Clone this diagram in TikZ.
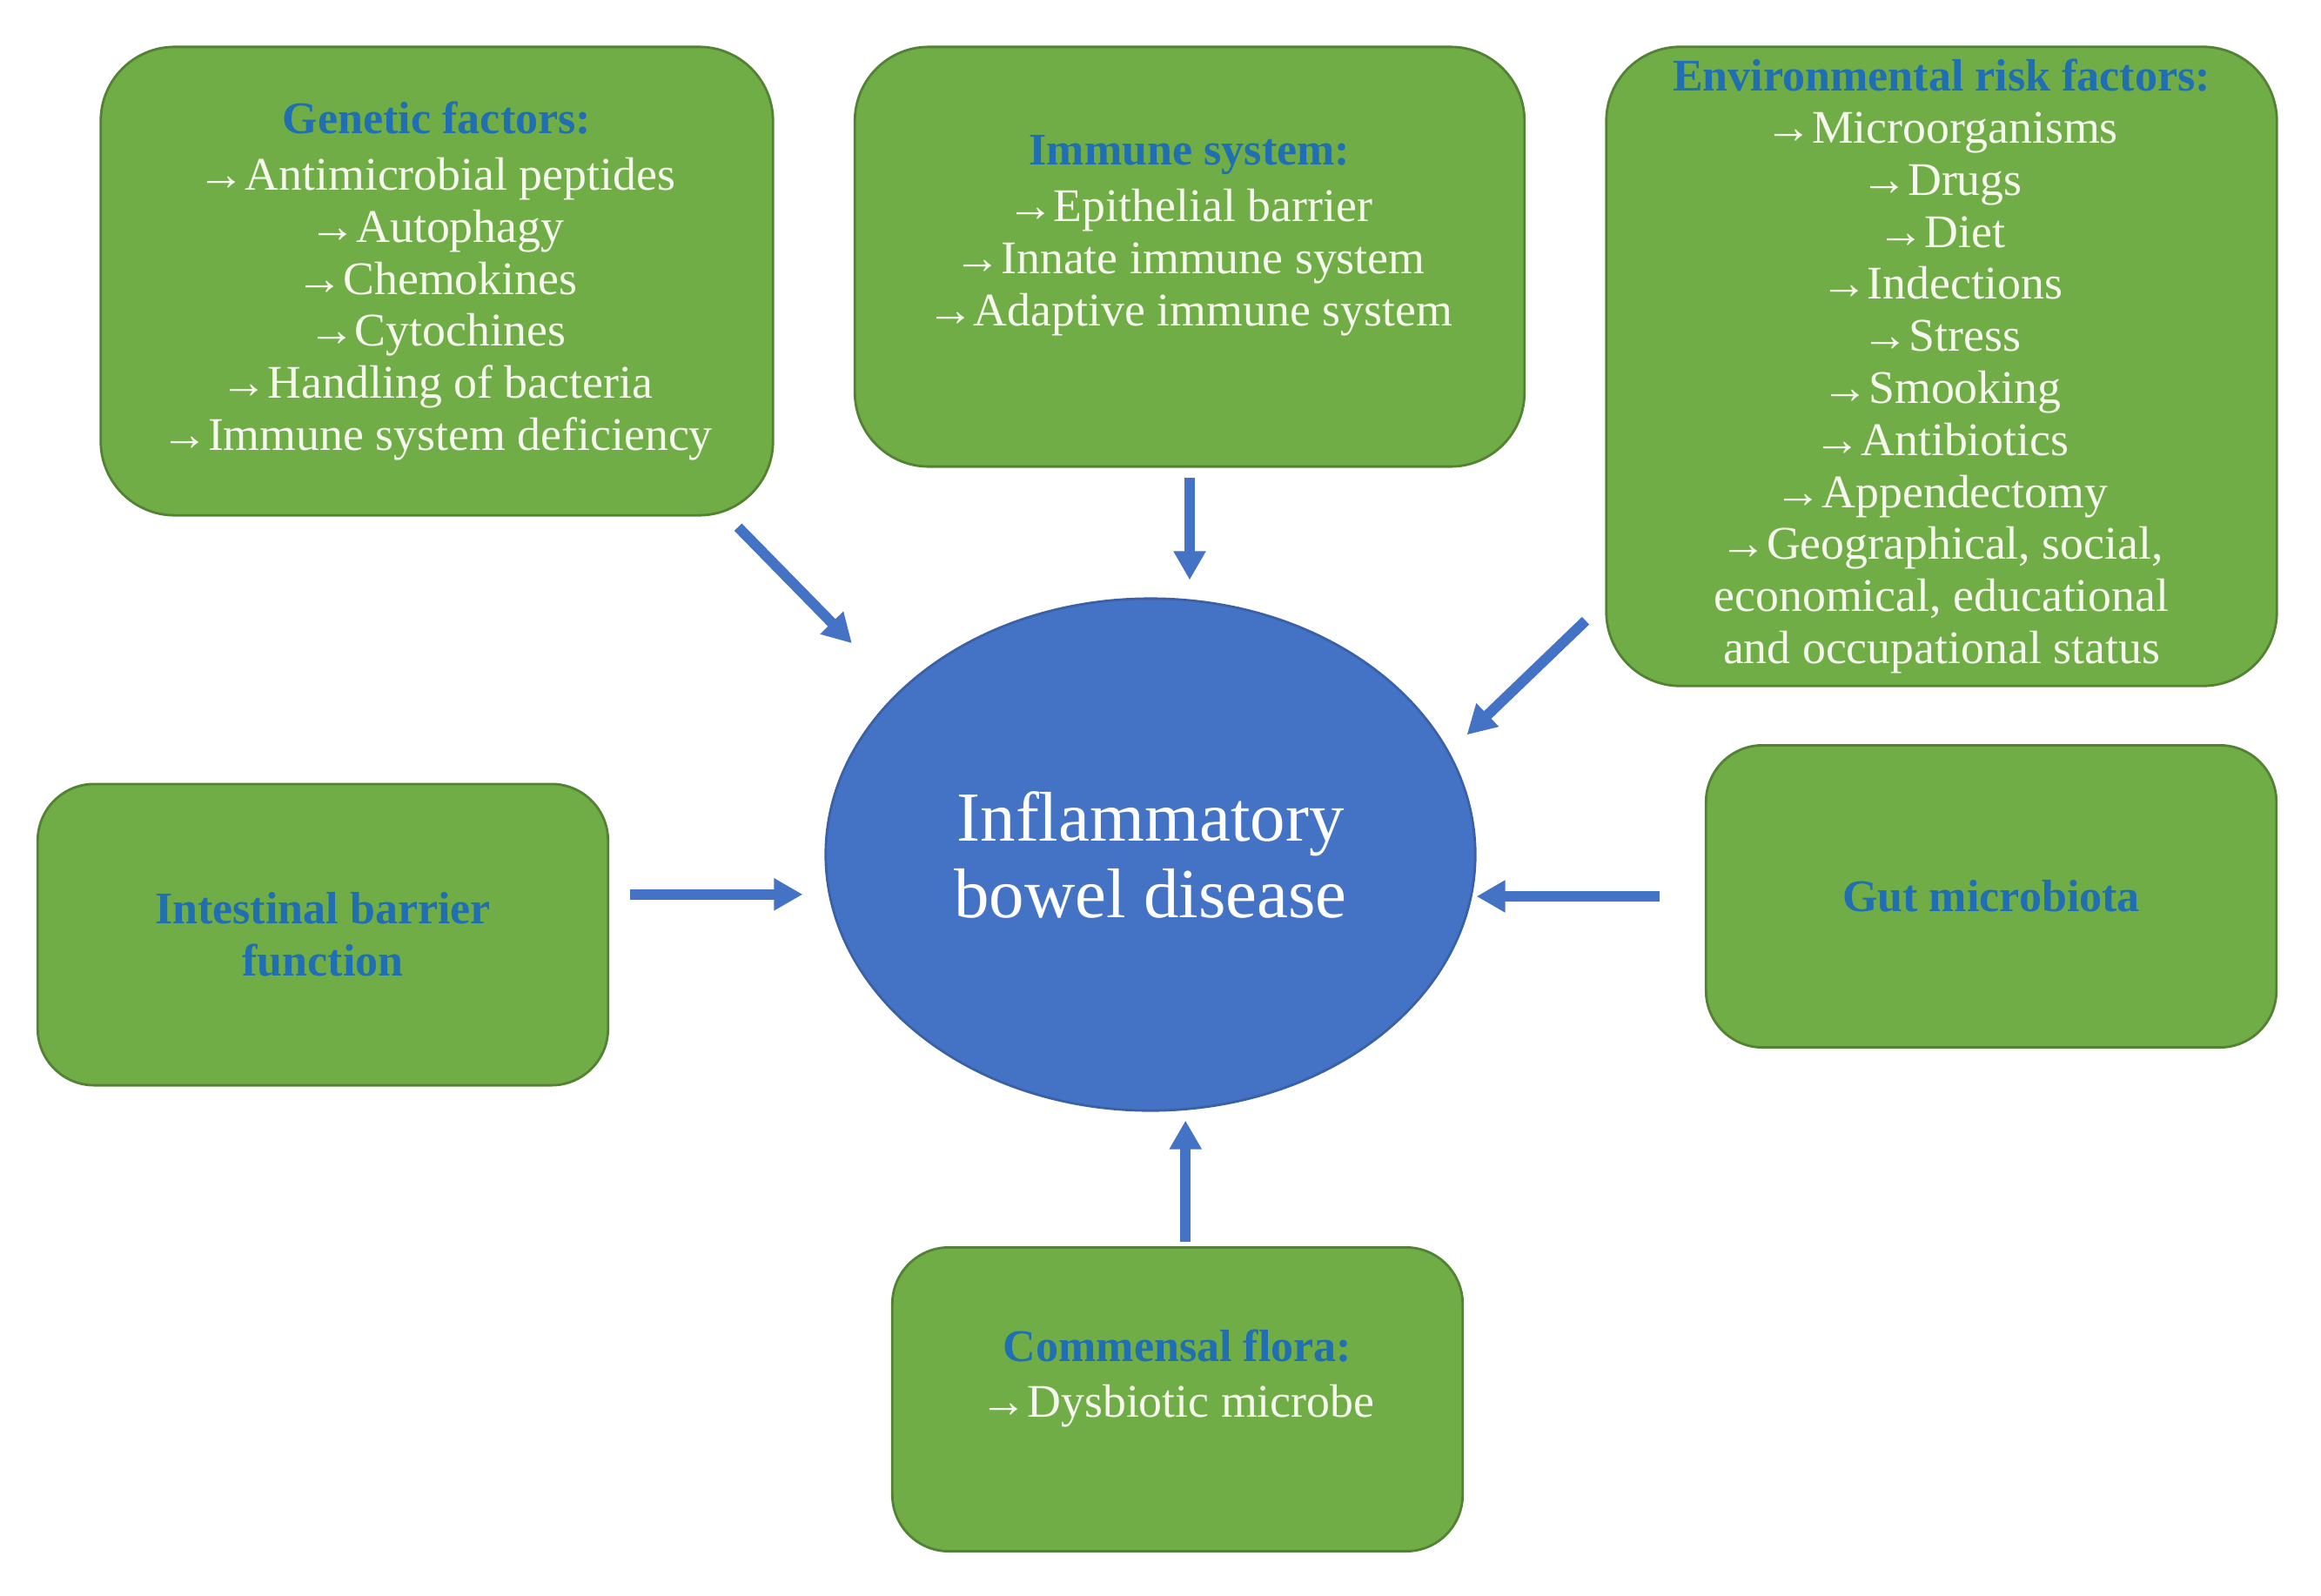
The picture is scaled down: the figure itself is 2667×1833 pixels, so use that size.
\documentclass[tikz,border=0pt]{standalone}
\usepackage{fontspec}
\setmainfont{Liberation Serif}
\usetikzlibrary{shapes.geometric, arrows.meta}
\usepackage{xcolor}

\definecolor{boxgreen}{HTML}{70AD47}
\definecolor{boxedge}{HTML}{548235}
\definecolor{ibdblue}{HTML}{4472C4}
\definecolor{headblue}{HTML}{1F6FB2}
\definecolor{itemwhite}{HTML}{F6F8EE}

\newcommand{\hd}[1]{{\fontsize{14.8}{17}\selectfont\color{headblue}\bfseries #1}}

\tikzset{
  factor/.style={draw=boxedge, line width=0.8pt, fill=boxgreen, rounded corners=0.85cm,
    align=center, inner sep=0pt, text=itemwhite, font=\fontsize{15.3}{17}\selectfont},
  feed/.style={draw=ibdblue, line width=0.12cm, -{Triangle[width=0.35cm,length=0.33cm]}}
}

\begin{document}
\begin{tikzpicture}
  [x=0.01cm, y=-0.01cm]
  \useasboundingbox (0,0) rectangle (2667,1833);

  \node[factor, minimum width=7.72cm, minimum height=5.38cm] (gen) at (502,323)
    {\hd{Genetic factors:}\\[0.05cm]
     →Antimicrobial peptides\\ →Autophagy\\ →Chemokines\\ →Cytochines\\
     →Handling of bacteria\\ →Immune system deficiency};
  \node[factor, minimum width=7.69cm, minimum height=4.82cm] (imm) at (1367,295)
    {\hd{Immune system:}\\[0.05cm]
     →Epithelial barrier\\ →Innate immune system\\ →Adaptive immune system\\ \mbox{}};
  \node[factor, minimum width=7.70cm, minimum height=7.34cm] (env) at (2231,421)
    {\hd{Environmental risk factors:}\\
     →Microorganisms\\ →Drugs\\ →Diet\\ →Indections\\ →Stress\\ →Smooking\\
     →Antibiotics\\ →Appendectomy\\ →Geographical, social,\\
     economical, educational\\ and occupational status};
  \node[factor, rounded corners=0.65cm, minimum width=6.55cm, minimum height=3.46cm] (intb) at (371,1074)
    {\hd{Intestinal barrier}\\ \hd{function}};
  \node[factor, rounded corners=0.65cm, minimum width=6.55cm, minimum height=3.47cm] (gut) at (2288,1030)
    {\hd{Gut microbiota}};
  \node[factor, rounded corners=0.65cm, minimum width=6.55cm, minimum height=3.49cm] (comm) at (1353,1608)
    {\hd{Commensal flora:}\\[0.05cm] →Dysbiotic microbe\\ \mbox{}};

  \node[ellipse, fill=ibdblue, draw=ibdblue!85!black, line width=0.8pt,
    minimum width=7.46cm, minimum height=5.88cm, inner sep=0pt, align=center,
    text=white, font=\fontsize{23}{25}\selectfont] (ibd) at (1322,982)
    {Inflammatory\\ bowel disease};

  \foreach \from/\to/\gap/\tip in {gen.-39/ibd.147/0.17/0.77,
      imm.south/imm.south |- ibd.north/0.11/0.2,
      env.215/ibd.19/0.31/0.28,
      intb.8/intb.8 -| ibd.west/0.24/0.25,
      gut.west/gut.west -| ibd.east/0.52/0,
      comm.87.4/comm.87.4 |- ibd.south/0.05/0.1}
    \draw[feed, shorten <=\gap cm, shorten >=\tip cm] (\from) -- (\to);

\end{tikzpicture}
\end{document}
